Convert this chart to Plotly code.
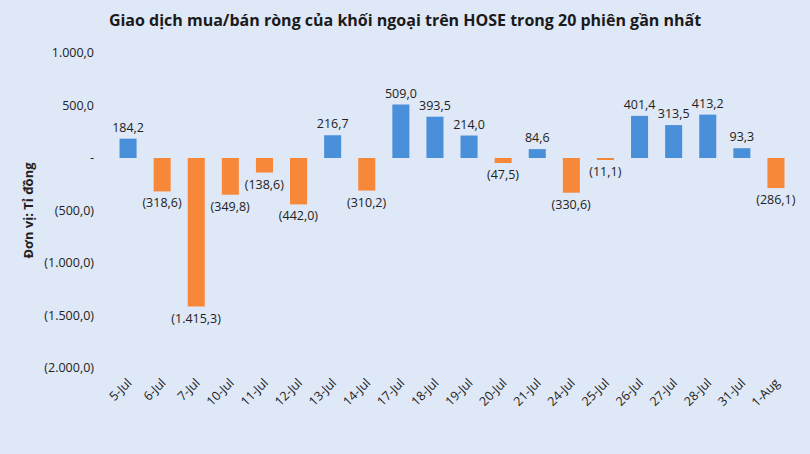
import plotly.graph_objects as go

dates = ['5-Jul', '6-Jul', '7-Jul', '10-Jul', '11-Jul', '12-Jul', '13-Jul', '14-Jul',
         '17-Jul', '18-Jul', '19-Jul', '20-Jul', '21-Jul', '24-Jul', '25-Jul', '26-Jul',
         '27-Jul', '28-Jul', '31-Jul', '1-Aug']
net_values = [184.2, -318.6, -1415.3, -349.8, -138.6, -442.0, 216.7, -310.2,
              509.0, 393.5, 214.0, -47.5, 84.6, -330.6, -11.1, 401.4,
              313.5, 413.2, 93.3, -286.1]
y_ticks = [1000, 500, 0, -500, -1000, -1500, -2000]


def vn_format(v):
    # 1415.3 -> 1.415,3 ; negatives in brackets
    s = f"{abs(v):,.1f}".replace(',', 'X').replace('.', ',').replace('X', '.')
    if v == 0:
        return '-'
    return f"({s})" if v < 0 else s


colors = ['#4a8fd9' if v >= 0 else '#f7883a' for v in net_values]
labels = [vn_format(v) for v in net_values]

fig = go.Figure()
fig.add_trace(go.Bar(
    x=dates, y=net_values,
    marker=dict(color=colors, line=dict(width=0)),
    text=labels, textposition='outside', constraintext='none',
    textfont=dict(size=12.5, color='#222222', family='Open Sans'),
    cliponaxis=False,
    width=0.5,
))

fig.update_layout(
    title=dict(text='<b>Giao dịch mua/bán ròng của khối ngoại trên HOSE trong 20 phiên gần nhất</b>',
               x=0.5, xanchor='center', y=0.955, yanchor='middle',
               font=dict(size=16, color='#1a1a1a', family='Open Sans')),
    width=810, height=454,
    paper_bgcolor='#dfe8f7', plot_bgcolor='#dfe8f7',
    margin=dict(l=111, r=17, t=53, b=86),
    showlegend=False,
    font=dict(family='Open Sans', color='#222222'),
    xaxis=dict(tickangle=-45, tickfont=dict(size=12.5), showgrid=False,
               showline=False, zeroline=False, ticks='', ticklabelstandoff=4),
    yaxis=dict(range=[-2000, 1000], tickvals=y_ticks,
               ticktext=[vn_format(v) for v in y_ticks],
               tickfont=dict(size=12.5), showgrid=False, zeroline=False,
               showline=False, ticks='', ticklabelstandoff=16,
               title=dict(text='<b>Đơn vị: Tỉ đồng</b>', font=dict(size=13), standoff=7)),
)

fig.write_html("out.html", config={'displayModeBar': False},
               post_script="document.body.style.margin='0';")
